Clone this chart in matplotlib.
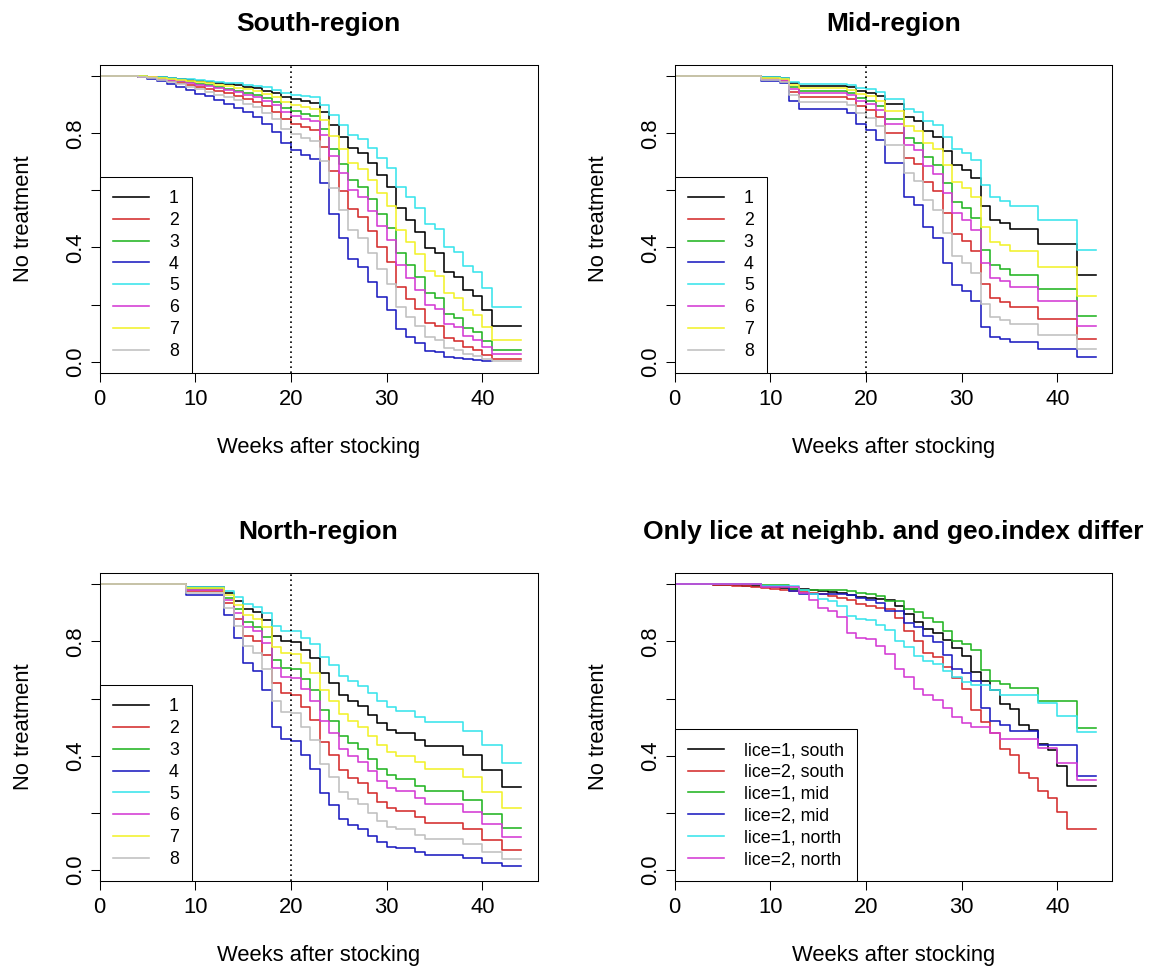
import matplotlib

matplotlib.use("Agg")
import matplotlib.pyplot as plt

plt.rcParams["font.family"] = ["Liberation Sans", "DejaVu Sans"]

# Predicted probability of no treatment yet, by group (1..8), per region.
# Each list gives S(t) just after the step at the matching week.
SOUTH_WEEKS = [0, 4, 5, 6, 7, 8, 9, 10, 11, 12, 13, 14, 15, 16, 17, 18, 19, 20, 21, 22,
               23, 24, 25, 26, 27, 28, 29, 30, 31, 32, 33, 34, 35, 36, 37, 38, 39, 40, 41]
SOUTH_1 = [1, .999, .997, .995, .992, .989, .986, .982, .979, .975, .971, .967, .962, .957, .949,
           .94, .926, .918, .912, .907, .875, .828, .788, .747, .729, .694, .653, .613, .537, .496,
           .455, .397, .379, .315, .298, .251, .23, .181, .125]
SOUTH_2 = [1, .998, .994, .989, .983, .977, .970, .962, .955, .947, .939, .930, .920, .910, .894,
           .875, .848, .832, .820, .811, .751, .667, .599, .534, .507, .456, .400, .349, .263, .221,
           .184, .137, .124, .084, .074, .051, .042, .025, .011]
SOUTH_3 = [1, .998, .995, .992, .988, .983, .978, .972, .968, .962, .955, .949, .942, .934, .922,
           .909, .888, .876, .867, .860, .813, .746, .691, .636, .613, .568, .516, .468, .381, .337,
           .295, .239, .222, .167, .153, .117, .103, .071, .040]
SOUTH_4 = [1, .997, .990, .983, .972, .962, .952, .938, .929, .915, .902, .889, .873, .857, .833,
           .805, .764, .741, .725, .711, .627, .517, .434, .360, .331, .278, .225, .180, .114, .086,
           .064, .039, .034, .018, .014, .008, .006, .002]
SOUTH_5 = [1, .999, .998, .996, .994, .991, .989, .986, .983, .980, .977, .974, .970, .966, .960,
           .952, .941, .935, .930, .926, .900, .862, .828, .794, .779, .749, .714, .679, .612, .575,
           .537, .482, .465, .402, .384, .336, .313, .259, .193]
SOUTH_6 = [1, .998, .995, .991, .986, .981, .976, .969, .964, .957, .950, .943, .935, .926, .913,
           .897, .874, .861, .851, .843, .792, .719, .659, .600, .576, .528, .474, .425, .337, .293,
           .252, .199, .183, .133, .120, .089, .076, .050, .026]
SOUTH_7 = [1, .999, .996, .994, .990, .987, .983, .978, .974, .969, .964, .959, .953, .947, .937,
           .926, .909, .899, .892, .886, .847, .791, .744, .696, .676, .636, .590, .545, .462, .419,
           .377, .318, .300, .239, .223, .180, .162, .120, .076]
SOUTH_8 = [1, .997, .992, .987, .979, .971, .963, .953, .945, .935, .925, .915, .903, .890, .871,
           .849, .816, .797, .784, .772, .702, .607, .532, .462, .433, .380, .323, .273, .193, .157,
           .124, .087, .077, .047, .040, .026, .020, .011, .004]
SOUTH_END = [44, 44, 44, 41, 44, 44, 44, 44]

MID_WEEKS = [0, 9, 11, 12, 13, 18, 19, 20, 21, 22, 24, 25, 26, 27, 28, 29, 30, 31, 32, 33,
             34, 35, 38, 42]
MID_1 = [1, .995, .993, .974, .965, .961, .949, .942, .930, .901, .855, .842, .806, .787, .739,
         .688, .670, .642, .546, .497, .484, .464, .412, .305]
MID_2 = [1, .989, .984, .945, .926, .918, .894, .880, .855, .799, .714, .691, .629, .598, .522,
         .447, .423, .386, .272, .222, .210, .192, .149, .078]
MID_3 = [1, .992, .988, .960, .946, .940, .922, .912, .894, .851, .784, .766, .716, .690, .626,
         .560, .538, .503, .391, .338, .325, .304, .253, .159]
MID_4 = [1, .983, .974, .912, .883, .870, .833, .811, .776, .694, .578, .548, .470, .432, .347,
         .270, .246, .212, .120, .087, .079, .068, .045, .016]
MID_5 = [1, .996, .994, .980, .972, .969, .959, .954, .944, .921, .884, .873, .843, .828, .788,
         .744, .729, .705, .620, .575, .564, .545, .496, .391]
MID_6 = [1, .991, .987, .955, .940, .933, .912, .901, .881, .833, .760, .740, .686, .658, .589,
         .520, .496, .460, .347, .294, .281, .261, .212, .125]
MID_7 = [1, .994, .991, .968, .957, .952, .937, .929, .914, .879, .824, .808, .765, .743, .687,
         .629, .609, .577, .472, .420, .407, .386, .333, .229]
MID_8 = [1, .987, .980, .933, .910, .900, .871, .854, .825, .759, .661, .634, .565, .530, .449,
         .371, .346, .309, .201, .157, .146, .131, .095, .043]
MID_END = [44] * 8

NORTH_WEEKS = [0, 9, 13, 14, 15, 16, 17, 18, 19, 20, 21, 22, 23, 24, 25, 26, 27, 28, 29, 30,
               31, 33, 34, 38, 40, 42]
NORTH_1 = [1, .989, .968, .942, .912, .902, .876, .820, .800, .797, .770, .742, .688, .656, .613,
           .591, .574, .544, .513, .490, .478, .455, .434, .403, .351, .290]
NORTH_2 = [1, .976, .933, .879, .820, .801, .752, .653, .619, .614, .570, .526, .447, .404, .349,
           .323, .303, .270, .238, .216, .205, .184, .166, .142, .105, .070]
NORTH_3 = [1, .983, .951, .912, .867, .852, .814, .735, .708, .704, .667, .630, .560, .520, .468,
           .443, .423, .389, .355, .331, .319, .295, .275, .244, .197, .147]
NORTH_4 = [1, .962, .893, .811, .725, .697, .629, .499, .458, .452, .401, .352, .270, .229, .180,
           .159, .143, .119, .097, .082, .076, .064, .054, .042, .026, .013]
NORTH_5 = [1, .991, .975, .954, .930, .922, .901, .855, .838, .836, .813, .790, .744, .717, .679,
           .660, .645, .618, .590, .569, .558, .537, .517, .488, .437, .376]
NORTH_6 = [1, .981, .945, .901, .851, .835, .793, .707, .677, .672, .633, .593, .520, .478, .425,
           .399, .379, .345, .311, .287, .275, .252, .232, .204, .160, .115]
NORTH_7 = [1, .986, .961, .929, .892, .880, .849, .782, .758, .755, .723, .691, .629, .593, .545,
           .521, .502, .470, .437, .413, .400, .377, .355, .324, .273, .216]
NORTH_8 = [1, .971, .918, .854, .783, .761, .704, .591, .554, .548, .500, .454, .371, .327, .273,
           .248, .230, .199, .171, .151, .142, .124, .109, .090, .062, .038]
NORTH_END = [44] * 8

# lice level 1/2 per region, everything else held fixed
LICE1_SOUTH = [1, .999, .998, .997, .995, .994, .992, .989, .988, .985, .983, .980, .977, .974,
               .970, .964, .956, .951, .947, .944, .924, .895, .869, .842, .830, .806, .778, .749,
               .693, .661, .629, .580, .564, .506, .490, .442, .420, .365, .293]
LICE2_SOUTH = [1, .999, .997, .995, .993, .990, .987, .983, .980, .977, .973, .969, .965, .960,
               .952, .944, .931, .923, .918, .913, .883, .838, .800, .761, .744, .711, .671, .633,
               .559, .519, .479, .422, .404, .340, .322, .275, .253, .202, .143]
LICE1_MID = [1, .997, .996, .985, .979, .977, .970, .965, .958, .940, .912, .903, .881, .868,
             .837, .802, .790, .770, .700, .662, .652, .636, .593, .496]
LICE2_MID = [1, .995, .993, .976, .967, .964, .952, .946, .934, .907, .864, .851, .818, .799,
             .754, .705, .688, .661, .568, .520, .507, .488, .436, .330]
LICE1_NORTH = [1, .994, .981, .965, .947, .941, .925, .890, .877, .875, .857, .839, .802, .780,
               .749, .733, .721, .698, .675, .657, .647, .629, .611, .585, .539, .482]
LICE2_NORTH = [1, .990, .970, .946, .918, .908, .884, .831, .812, .809, .783, .757, .705, .674,
               .633, .612, .595, .566, .536, .513, .502, .479, .458, .428, .376, .315]
LICE_LABELS = ["lice=1, south", "lice=2, south", "lice=1, mid",
               "lice=2, mid", "lice=1, north", "lice=2, north"]

GROUP_LABELS = ["1", "2", "3", "4", "5", "6", "7", "8"]
PALETTE = ["#000000", "#D42C2C", "#22B422", "#1C1CC0", "#38E4EC",
           "#D43AD4", "#F2F22A", "#C0C0C0"]

FS = 15.8


def km_panel(ax, title, curves, labels, colours, mark20=True):
    for (weeks, surv, end), lab, col in zip(curves, labels, colours):
        ax.step(weeks + [end], surv + [surv[-1]], where="post",
                color=col, lw=1.15, label=lab)
    if mark20:
        ax.axvline(20, color="black", lw=1.2, ls=(0, (1, 2)))
    ax.set_xlim(0, 45.76)
    ax.set_ylim(-0.04, 1.04)
    ax.set_xticks([0, 10, 20, 30, 40])
    ax.set_yticks([0, .2, .4, .6, .8, 1.0])
    ax.set_yticklabels(["0.0", "", "0.4", "", "0.8", ""])
    ax.tick_params(direction="out", length=6.5, width=0.75, labelsize=FS)
    ax.tick_params(axis="x", pad=5)
    ax.tick_params(axis="y", pad=3.5)
    plt.setp(ax.get_yticklabels(), rotation=90, va="center")
    for s in ax.spines.values():
        s.set_linewidth(0.75)
    ax.set_xlabel("Weeks after stocking", fontsize=FS, labelpad=19)
    ax.set_ylabel("No treatment", fontsize=FS, labelpad=22)
    ax.set_title(title, fontsize=19, fontweight="bold", pad=24.5)
    leg = ax.legend(loc="lower left", bbox_to_anchor=(0, 0), borderaxespad=0,
                    fontsize=12.8, frameon=True, fancybox=False, edgecolor="black",
                    framealpha=1, handlelength=2.05, handletextpad=1.1,
                    borderpad=0.75, labelspacing=0.27)
    leg.get_frame().set_linewidth(0.75)
    for h in leg.get_lines():
        h.set_linewidth(1.15)


fig = plt.figure(figsize=(11.55, 9.72), dpi=100)
W, H = 0.3792, 0.3174
ax_s = fig.add_axes([0.0862, 0.6161, W, H])
ax_m = fig.add_axes([0.5840, 0.6161, W, H])
ax_n = fig.add_axes([0.0862, 0.0932, W, H])
ax_l = fig.add_axes([0.5840, 0.0932, W, H])

south = [SOUTH_1, SOUTH_2, SOUTH_3, SOUTH_4, SOUTH_5, SOUTH_6, SOUTH_7, SOUTH_8]
mid = [MID_1, MID_2, MID_3, MID_4, MID_5, MID_6, MID_7, MID_8]
north = [NORTH_1, NORTH_2, NORTH_3, NORTH_4, NORTH_5, NORTH_6, NORTH_7, NORTH_8]

km_panel(ax_s, "South-region",
         [(SOUTH_WEEKS[:len(s)], s, e) for s, e in zip(south, SOUTH_END)],
         GROUP_LABELS, PALETTE)
km_panel(ax_m, "Mid-region",
         [(MID_WEEKS, s, e) for s, e in zip(mid, MID_END)],
         GROUP_LABELS, PALETTE)
km_panel(ax_n, "North-region",
         [(NORTH_WEEKS, s, e) for s, e in zip(north, NORTH_END)],
         GROUP_LABELS, PALETTE)
km_panel(ax_l, "Only lice at neighb. and geo.index differ",
         [(SOUTH_WEEKS, LICE1_SOUTH, 44), (SOUTH_WEEKS, LICE2_SOUTH, 44),
          (MID_WEEKS, LICE1_MID, 44), (MID_WEEKS, LICE2_MID, 44),
          (NORTH_WEEKS, LICE1_NORTH, 44), (NORTH_WEEKS, LICE2_NORTH, 44)],
         LICE_LABELS, PALETTE[:6], mark20=False)

fig.savefig("out.png", dpi=100, facecolor="white")
